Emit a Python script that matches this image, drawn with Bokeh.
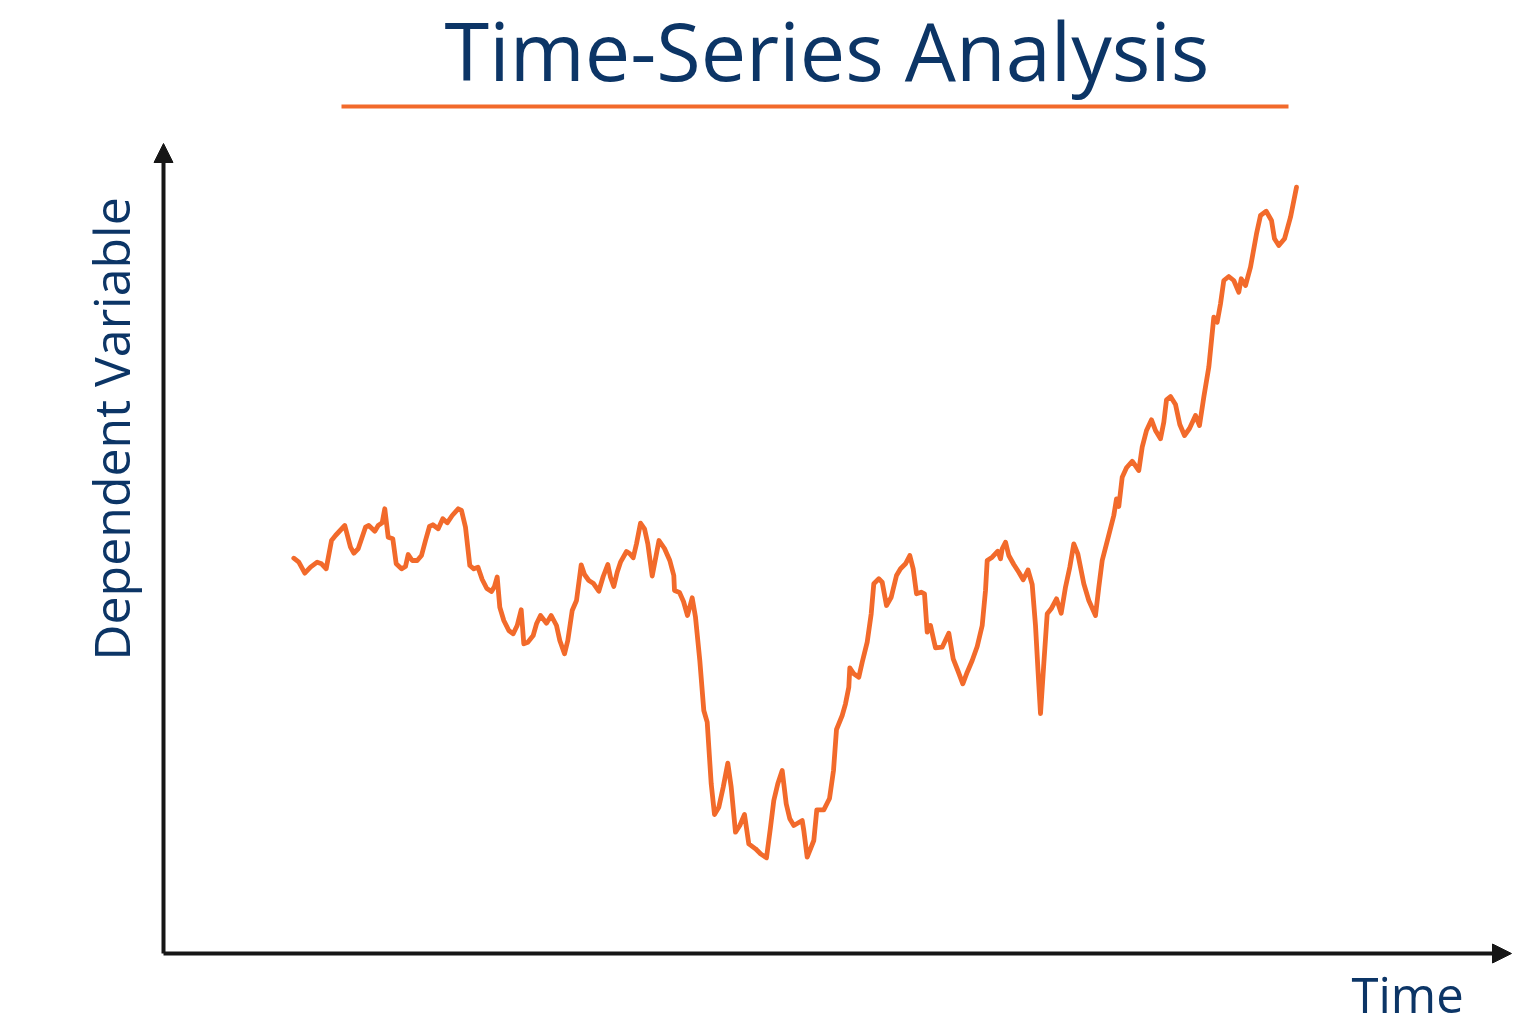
import math
from bokeh.plotting import figure
from bokeh.models import Range1d, Arrow, NormalHead, Label, ColumnDataSource
from bokeh.embed import file_html
from bokeh.resources import INLINE

# ---- data (time index, dependent variable) ----
time = [
    130.3, 135.3, 141.3, 147, 153.7, 158, 162.7, 168, 172, 181.3,
    187, 190.3, 194.7, 202, 205.3, 211.3, 214.7, 218.7, 221.3, 224.7,
    229.3, 232.7, 238, 242, 244.7, 248.7, 253.7, 258, 262, 266,
    269.3, 274.7, 279.3, 283.7, 288.7, 294.7, 298, 302, 306.3, 310.3,
    314.5, 318.7, 323.3, 328, 331, 333.7, 336.3, 340.3, 345.3, 349.7,
    353.7, 357.7, 360.3, 364.3, 369.7, 373, 377, 383, 387.7, 393,
    396.3, 401, 404.3, 408.7, 413, 417.7, 421, 425.3, 429.7, 435.3,
    439.7, 444.3, 447, 450.3, 453.7, 457, 463, 466.3, 469.7, 473,
    477, 481, 484.3, 488.7, 492, 495.5, 501, 506.3, 510.3, 511,
    516, 520, 524, 528.7, 532, 536.3, 540.3, 543.7, 547.7, 551,
    555.3, 559.7, 564.3, 567.7, 572, 576.3, 581, 585.3, 592, 597,
    603, 607, 610.3, 614.3, 618.7, 622.7, 626.3, 630.3, 638.7, 640.3,
    643.7, 650.3, 653.3, 660.3, 666, 670, 673, 678.7, 682, 685.3,
    686.3, 690.3, 695.3, 698.7, 703.7, 707.7, 710.3, 715.3, 718.7, 723,
    727.7, 733, 737, 742, 746.3, 749.7, 753, 757.7, 761, 763.7,
    767, 770.3, 772, 778.7, 785.3, 789.7, 794.3, 799.3, 803.7, 808.7,
    813.7, 818.7, 822, 823.7, 828.7, 834.3, 837, 838.7, 842, 845.3,
    850.3, 855.3, 859.7, 864.5, 868.7, 872, 874.5, 877, 880.3, 883.7,
    887.7, 893, 897.7, 902, 906.3, 910.3, 914.3, 920.3, 925.3, 932,
    935.3, 938.7, 944.3, 950.3, 953, 955.3, 958.7, 963, 968.7, 975.3,
    978.7, 983, 988, 992, 997, 1000.3, 1003, 1007, 1012, 1016.3,
    1021, 1026, 1032, 1036, 1040.3, 1045.3, 1050.3, 1053.7, 1057, 1060.3,
    1065.3, 1070.3, 1075.3, 1077.7, 1082, 1087, 1093, 1097, 1102.7, 1108,
    1111, 1115.3, 1121, 1127, 1133,
]
values = [
    395.3, 391.3, 380.3, 386.3, 391.3, 389.7, 384.7, 413, 418, 428,
    406.3, 400.3, 404.7, 426.3, 428, 422.3, 428, 430.7, 444.7, 416.3,
    414.7, 389.7, 384.7, 387, 399, 393, 393, 398, 413, 427,
    428.7, 424.7, 434.7, 430.7, 438, 444.7, 443, 426.3, 388, 384.7,
    386.3, 374, 365, 362, 367, 376.5, 346.3, 333, 323, 319.7,
    328, 343.7, 309.7, 311.3, 318, 329.7, 338, 330.3, 338, 328,
    313, 299.7, 313, 343, 353, 388.7, 379, 373, 370.3, 362.3,
    377, 389, 376.3, 367, 381.3, 391.3, 402, 399.7, 395.7, 409.7,
    430.3, 424.7, 409.7, 377.5, 394.7, 413, 405, 393, 378, 363,
    361, 352, 338, 355.7, 336.3, 293, 243, 231.3, 169.7, 139,
    146.3, 166.3, 190.3, 166.3, 121.3, 128, 139, 109.7, 104.7, 99.7,
    95.7, 126.3, 153, 169.7, 183, 149.7, 134.7, 128, 133, 123,
    96.3, 113, 143.7, 143.7, 155, 183, 224, 238, 249.7, 266.3,
    285.7, 279.7, 276.3, 291.3, 311.3, 339.7, 369.7, 374.7, 371.3, 348,
    356.3, 378, 384.7, 389.7, 398, 384.7, 359.7, 361.3, 359.7, 321.3,
    328, 313, 305.7, 306.3, 320.3, 294.7, 283, 269.7, 281.3, 293,
    307, 328, 363, 393, 396.3, 402.3, 394.7, 404.7, 411.3, 398,
    389, 381.3, 373.7, 383.5, 369, 328, 283, 240, 289.7, 339.7,
    344.7, 354.7, 340.3, 366.3, 386.3, 409.7, 399.7, 369.7, 353, 338,
    366.3, 393, 414.7, 438, 454.7, 447, 476.3, 485.7, 492.3, 483,
    506.3, 523, 533.7, 523, 514.7, 531.3, 553.7, 557, 549, 529,
    518, 525, 538, 528, 556.3, 586.3, 636.3, 631.3, 649.7, 673,
    677, 673, 661.3, 674.7, 668, 686.3, 719.7, 738, 742.3, 733,
    714.7, 708, 714.7, 736.3, 766.3,
]
assert len(time) == len(values)

title_text = "Time-Series Analysis"
x_label = "Time"
y_label = "Dependent Variable"

ORANGE = "#f26a2b"
BLUE = "#0c3566"
AXIS = "#161616"
FONT = "Open Sans"

W, H = 1530, 1020
p = figure(
    width=W, height=H,
    x_range=Range1d(-163, W - 163), y_range=Range1d(953 - H, 953),
    x_axis_type=None, y_axis_type=None,
    toolbar_location=None, output_backend="svg",
    min_border=0, min_border_left=0, min_border_right=0,
    min_border_top=0, min_border_bottom=0,
)
p.outline_line_color = None
p.grid.visible = False
p.background_fill_color = "white"
p.border_fill_color = "white"

# series
src = ColumnDataSource(data=dict(t=time, v=values))
p.line("t", "v", source=src, line_color=ORANGE, line_width=4.8,
       line_join="round", line_cap="round")

# axes with arrow heads
p.add_layout(Arrow(x_start=0, y_start=0, x_end=1348, y_end=0,
                   line_color=AXIS, line_width=4,
                   end=NormalHead(size=19, fill_color=AXIS, line_color=AXIS, line_width=1)))
p.add_layout(Arrow(x_start=0, y_start=0, x_end=0, y_end=810,
                   line_color=AXIS, line_width=4,
                   end=NormalHead(size=19, fill_color=AXIS, line_color=AXIS, line_width=1)))

# title and underline
p.add_layout(Label(x=663.5, y=904, text=title_text, text_font=FONT,
                   text_font_size="81px", text_color=BLUE,
                   text_align="center", text_baseline="alphabetic"))
p.segment(x0=[178], y0=[847], x1=[1125], y1=[847],
          line_color=ORANGE, line_width=4)

# axis labels
p.add_layout(Label(x=-53, y=524.5, text=y_label, text_font=FONT,
                   text_font_size="50px", text_color=BLUE, angle=math.pi / 2,
                   text_align="center", text_baseline="alphabetic"))
p.add_layout(Label(x=1188, y=-40, text=x_label, text_font=FONT,
                   text_font_size="49px", text_color=BLUE,
                   text_align="left", text_baseline="alphabetic"))

open("out.html", "w").write(file_html(p, INLINE))
